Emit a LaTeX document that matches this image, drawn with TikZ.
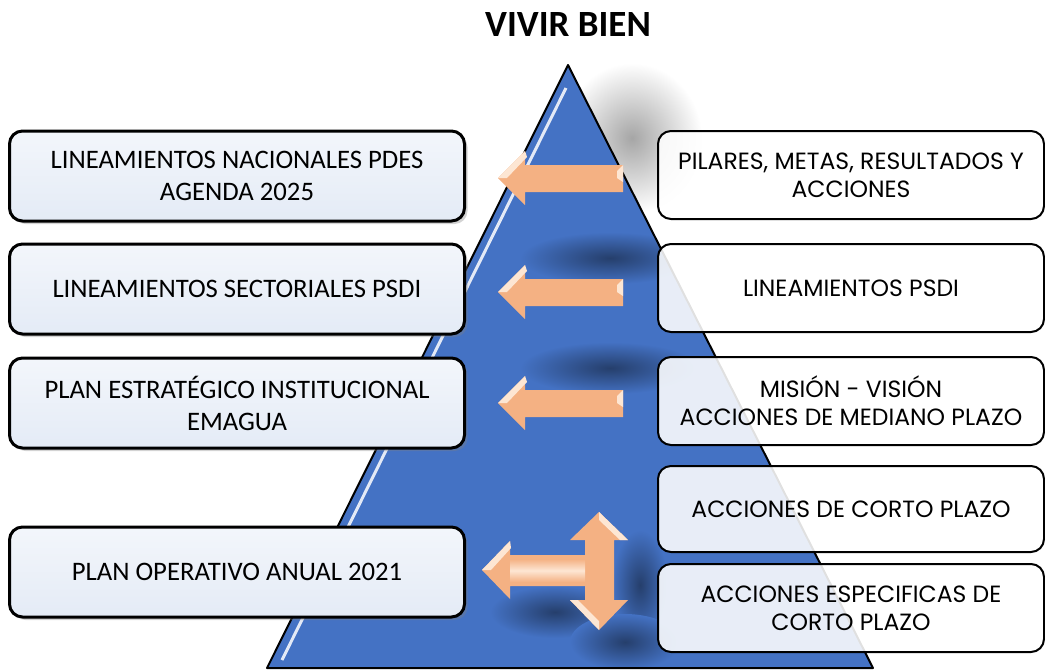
\documentclass[tikz,border=0pt]{standalone}
\usepackage{fontspec}
\setmainfont{Carlito}
\newfontfamily\gothic{Poppins}
\usepackage{tikz}
\usetikzlibrary{positioning,shadows}

\definecolor{azul}{HTML}{4472C4}
\definecolor{salmon}{HTML}{F4B183}
\definecolor{salmonclaro}{HTML}{FDE6D3}
\definecolor{celeste}{HTML}{E4EBF6}

\tikzset{
	cajaizq/.style={draw=black, line width=3pt, rounded corners=13pt,
		top color=white!55!celeste, bottom color=celeste,
		minimum width=455pt, minimum height=90pt, align=center,
		font=\fontsize{26.7}{32}\selectfont,
		drop shadow={opacity=.35, shadow xshift=3pt, shadow yshift=-3pt}},
	cajader/.style={draw=black, line width=2pt, rounded corners=13pt,
		fill=white, fill opacity=.88, text opacity=1,
		minimum width=386pt, minimum height=88pt, align=center,
		font=\gothic\fontsize{23.5}{28}\selectfont},
	flecha/.style={fill=salmon},
	brillo/.style={fill=salmonclaro},
	sombra/.style={inner color=azul!55!black, outer color=azul}
}

\begin{document}
\begin{tikzpicture}[x=1pt,y=-1pt]
	\useasboundingbox (0,0) rectangle (1045,670);
	
	% titulo
	\node[font=\bfseries\fontsize{37}{40}\selectfont] (titulo) at (568,25) {VIVIR BIEN};
	
	% sombra gris junto al vertice
	\shade[inner color=gray!70, outer color=white] (632,138) ellipse [x radius=70, y radius=75];
	
	% piramide
	\fill[azul] (568,65) -- (267,668) -- (873,668) -- cycle;
	
	% sombras sobre la piramide
	\begin{scope}
		\clip (568,65) -- (267,668) -- (873,668) -- cycle;
		\shade[sombra] (610,258) ellipse [x radius=90, y radius=26];
		\shade[sombra] (610,368) ellipse [x radius=90, y radius=26];
		\shade[sombra] (555,612) ellipse [x radius=65, y radius=26];
		\shade[sombra] (640,585) ellipse [x radius=28, y radius=55];
		\shade[sombra] (625,642) ellipse [x radius=55, y radius=28];
	\end{scope}
	
	\draw[white, line width=3pt, opacity=.85] (566,88) -- (282,660);
	\draw[black, line width=2pt, line join=round] (568,65) -- (267,668) -- (873,668) -- cycle;
	
	% flechas hacia la izquierda
	\foreach \y in {178,292,403} {
		\fill[flecha] (498,\y) -- (525,\y-27) -- (525,\y-13) -- (623,\y-13) -- (623,\y+14)
			-- (525,\y+14) -- (525,\y+27) -- cycle;
		\fill[brillo] (498,\y) -- (525,\y-27) -- (527,\y-21) -- (507,\y) -- cycle;
		\fill[brillo] (623,\y-13) -- (623,\y+4) -- (617,\y) -- (617,\y-7) -- cycle;
	}
	
	% flecha en T
	\fill[flecha] (482,570) -- (510,541) -- (510,555) -- (585,555) -- (585,540) -- (570,540)
		-- (599,512) -- (628,540) -- (614,540) -- (614,600) -- (628,600) -- (599,630)
		-- (570,600) -- (585,600) -- (585,586) -- (510,586) -- (510,599) -- cycle;
	\fill[top color=salmon, bottom color=salmon, middle color=salmonclaro] (510,559) rectangle (585,582);
	\fill[brillo] (482,570) -- (510,541) -- (511,548) -- (491,570) -- cycle;
	\fill[brillo] (599,512) -- (628,540) -- (620,540) -- (599,520) -- cycle;
	\fill[brillo] (570,600) -- (599,630) -- (599,621) -- (578,600) -- cycle;
	
	% cajas de la izquierda
	\node[cajaizq] (nacional) at (237,176) {LINEAMIENTOS NACIONALES PDES\\AGENDA 2025};
	\node[cajaizq] (sectorial) at (237,289) {LINEAMIENTOS SECTORIALES PSDI};
	\node[cajaizq] (pei) at (237,403) {PLAN ESTRATÉGICO INSTITUCIONAL\\EMAGUA};
	\node[cajaizq] (poa) at (237,572) {PLAN OPERATIVO ANUAL 2021};
	
	% cajas de la derecha
	\node[cajader] (pilares) at (851,175) {PILARES, METAS, RESULTADOS Y\\ACCIONES};
	\node[cajader] (psdi) at (851,288) {LINEAMIENTOS PSDI};
	\node[cajader] (mision) at (851,401) {MISIÓN - VISIÓN\\ACCIONES DE MEDIANO PLAZO};
	\node[cajader, minimum height=86pt] (corto) at (851,509) {ACCIONES DE CORTO PLAZO};
	\node[cajader] (especificas) at (851,608) {ACCIONES ESPECIFICAS DE\\CORTO PLAZO};
\end{tikzpicture}
\end{document}
